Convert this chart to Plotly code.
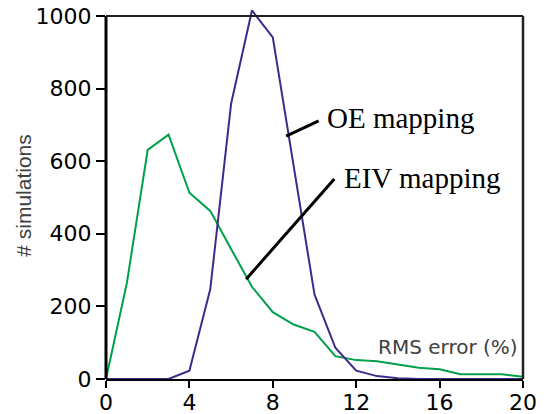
import plotly.graph_objects as go

rms_error = list(range(0, 21))
eiv_counts = [0, 264, 631, 673, 513, 463, 358, 254, 184, 150, 130, 63, 52, 49, 40, 31, 27, 13, 13, 13, 6]
oe_counts = [0, 0, 0, 0, 23, 247, 758, 1015, 941, 590, 233, 86, 23, 8, 2, 0, 0, 0, 0, 0, 0]
y_ticks = [0, 200, 400, 600, 800, 1000]
x_ticks = [0, 4, 8, 12, 16, 20]

GREEN = "#00a04a"
PURPLE = "#3f2a8c"
YMAX = 1030.0

fig = go.Figure()
fig.add_trace(go.Scatter(x=rms_error, y=eiv_counts, mode="lines",
                         line=dict(color=GREEN, width=2), name="EIV mapping"))
fig.add_trace(go.Scatter(x=rms_error, y=oe_counts, mode="lines",
                         line=dict(color=PURPLE, width=2), name="OE mapping"))

top = 1000.0 / YMAX
shapes = [
    # frame
    dict(type="line", xref="paper", yref="paper", x0=0, x1=0, y0=0, y1=top, line=dict(color="black", width=3)),
    dict(type="line", xref="paper", yref="paper", x0=0, x1=1, y0=top, y1=top, line=dict(color="#222", width=2)),
    dict(type="line", xref="paper", yref="paper", x0=1, x1=1, y0=0, y1=top, line=dict(color="#222", width=2.5)),
    # leader lines
    dict(type="line", xref="x", yref="y", x0=8.64, y0=669, x1=10.2, y1=711, line=dict(color="black", width=3)),
    dict(type="line", xref="x", yref="y", x0=6.72, y0=275, x1=10.95, y1=551, line=dict(color="black", width=3)),
]

annotations = [
    dict(x=10.52, y=719, xref="x", yref="y", text="OE mapping", showarrow=False,
         xanchor="left", yanchor="middle", font=dict(family="Liberation Serif", size=29, color="black")),
    dict(x=11.31, y=553, xref="x", yref="y", text="EIV mapping", showarrow=False,
         xanchor="left", yanchor="middle", font=dict(family="Liberation Serif", size=29, color="black")),
    dict(x=19.84, y=89, xref="x", yref="y", text="RMS error (%)", showarrow=False,
         xanchor="right", yanchor="middle", font=dict(family="DejaVu Sans", size=20, color="#404040")),
    dict(x=-0.197, y=507, xref="paper", yref="y", text="# simulations", showarrow=False, textangle=-90,
         xanchor="center", yanchor="middle", font=dict(family="Liberation Sans", size=21, color="#404040")),
]

fig.update_layout(
    width=547, height=414,
    margin=dict(l=106, r=24, t=5, b=35, autoexpand=False),
    paper_bgcolor="white", plot_bgcolor="white",
    showlegend=False,
    shapes=shapes, annotations=annotations,
    font=dict(family="DejaVu Sans", size=22, color="black"),
)
fig.update_xaxes(range=[0, 20], tickvals=x_ticks, ticks="outside", ticklen=7, tickwidth=1.5,
                 tickcolor="black", showline=True, linecolor="black", linewidth=2, automargin=False,
                 ticklabelstandoff=-4,
                 showgrid=False, zeroline=False, tickfont=dict(family="DejaVu Sans", size=22, color="black"))
fig.update_yaxes(range=[0, YMAX], tickvals=y_ticks, ticks="outside", ticklen=9, tickwidth=1.5,
                 tickcolor="black", showline=False, showgrid=False, zeroline=False, automargin=False,
                 tickfont=dict(family="DejaVu Sans", size=22, color="black"))

fig.write_html("out.html", config={"displayModeBar": False},
               post_script="document.body.style.margin='0';document.body.style.overflow='hidden';")
